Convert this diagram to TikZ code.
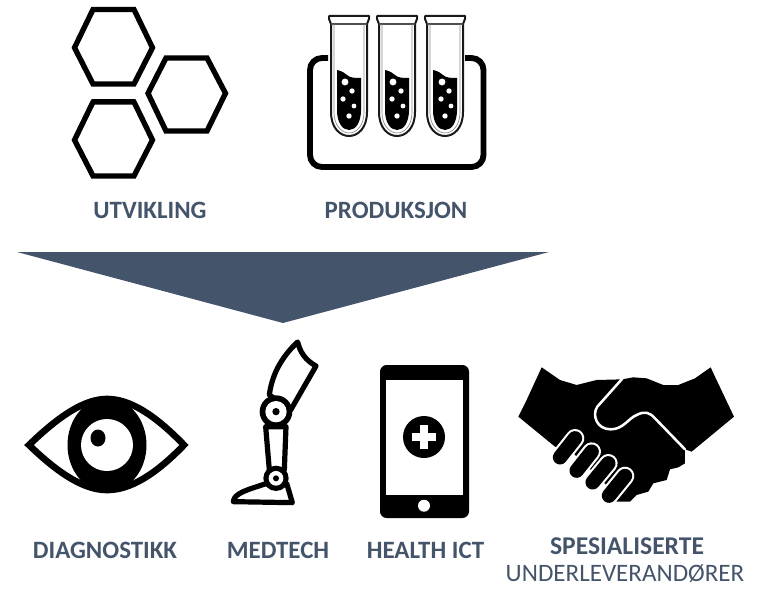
\documentclass[tikz,border=0pt]{standalone}
\usepackage{fontspec}
\setmainfont{Carlito}
\definecolor{slate}{HTML}{44546A}
\tikzset{
  lab/.style={text=slate,font=\fontsize{18.7}{20}\selectfont\bfseries,inner sep=0pt,anchor=center},
  labwide/.style={text=slate,font=\fontsize{19.2}{20}\selectfont\bfseries,inner sep=0pt,anchor=center},
  labthin/.style={text=slate,font=\fontsize{18.8}{20}\selectfont,inner sep=0pt,anchor=center},
  hex/.style={draw=black,line width=4pt,line join=miter,fill=none},
  leg/.style={draw=black,line width=3.9pt,line join=round,fill=white},
  testtube/.pic={
    \draw[line width=1.5pt,draw=black!90,fill=white,line join=round]
      (-2,0) -- (38,0) -- (38,3) -- (36,8) -- (36,96)
      .. controls (36,112) and (27,120) .. (18,120)
      .. controls (9,120) and (0,112) .. (0,96) -- (0,8) -- (-2,3) -- cycle;
    \draw[line width=1pt,draw=black!70] (0,8) -- (36,8);
    \draw[line width=.5pt,draw=black!45] (3,8) -- (3,96) .. controls (3,109) and (10,117) .. (18,117)
      .. controls (26,117) and (33,109) .. (33,96) -- (33,8);
    \fill[black] (6,54) .. controls (12,55) and (14,58) .. (16,59)
      .. controls (19,62) and (24,62) .. (30,62) -- (30,94)
      .. controls (30,106) and (25,114) .. (18,114)
      .. controls (11,114) and (6,106) .. (6,94) -- cycle;
  }
}
\begin{document}
\begin{tikzpicture}[x=.75pt,y=-.75pt]
\useasboundingbox (0,0) rectangle (759,588);
% hexagons
\draw[hex] (93,9.5) -- (134,9.5) -- (152.5,47.7) -- (134,84) -- (93,84) -- (74.5,47.7) -- cycle;
\draw[hex] (166,58) -- (207,58) -- (225.5,93.3) -- (207,131) -- (166,131) -- (148,93.3) -- cycle;
\draw[black,line width=2pt] (165,132) -- (208,132);
\draw[hex] (93,102) -- (134,102) -- (152.5,140) -- (134,176) -- (93,176) -- (74.5,140) -- cycle;
\draw[black,line width=1.5pt] (92,100.5) -- (135,100.5);
% rack
\draw[black,line width=4.4pt,rounded corners=9pt] (328,58) -- (310,58) -- (310,167) -- (483.5,167) -- (483.5,58) -- (465,58);
% tubes
\pic at (331,16) {testtube};
\pic at (379,16) {testtube};
\pic at (427,16) {testtube};
\foreach \t/\a/\b/\c/\d/\e in {331/14/21/12/23/18,379/14/22/13/24/18,427/15/22/14/24/18}{
  \begin{scope}[shift={(\t,16)}]
    \fill[white] (\a,66) circle (2.6pt) (\b,75) circle (2pt) (\c,83) circle (2pt) (\d,90) circle (1.8pt) (\e,100) circle (2pt);
  \end{scope}
}
% funnel
\fill[slate] (17,252) -- (549,252) -- (283,323) -- cycle;
% eye
\draw[black,line width=5pt,line join=miter] (29,445) .. controls (60,415) and (85,399) .. (107,399)
   .. controls (130,399) and (155,415) .. (184,445)
   .. controls (155,475) and (130,490) .. (107,490)
   .. controls (85,490) and (60,475) .. (29,445) -- cycle;
\fill[black] (107,445) ellipse [x radius=39.5,y radius=47];
\fill[white] (107,445) circle [radius=26];
\fill[black] (98,438) ellipse [x radius=7.5,y radius=8.5];
% leg
\begin{scope}[shift={(220,330)},scale=.3333]
  \draw[leg] (233,36) .. controls (240,65) and (255,90) .. (288,108) -- (212,240) -- (148,195)
     .. controls (155,140) and (180,85) .. (233,36) -- cycle;
  \draw[leg] (137,290) -- (198,290) -- (193,420) -- (148,420) -- cycle;
  \draw[leg] (40,515) .. controls (42,490) and (80,480) .. (135,462) -- (200,460) -- (217,518) -- cycle;
  \fill[black] (168,245) circle [radius=49];
  \fill[white] (168,245) circle [radius=32];
  \fill[black] (168,245) circle [radius=11];
  \fill[black] (168,445) circle [radius=38];
  \fill[white] (168,445) circle [radius=22];
  \fill[black] (168,445) circle [radius=9];
\end{scope}
% tablet
\fill[black,rounded corners=5pt] (380,365) rectangle (469,518);
\fill[white] (385.7,380) rectangle (463,495);
\fill[white] (424,505.7) circle [radius=6];
\fill[black] (424,437) circle [radius=21];
\fill[white] (420.3,425) rectangle (427.7,449);
\fill[white] (412,433.3) rectangle (436,440.7);
% handshake
\begin{scope}[shift={(370,350)},scale=.3333]
  \fill[black,line join=round] (515,52) -- (570,90) -- (620,105) -- (680,90) -- (757,88) -- (790,82) -- (830,85)
    -- (880,105) -- (925,105) -- (975,85) -- (1022,52) -- (1035,80) -- (1092,200) -- (965,305) -- (945,298)
    -- (945,340) -- (925,352) -- (900,358) -- (890,390) -- (850,400) -- (835,425) -- (800,435) -- (780,455)
    -- (740,455) -- (725,420) -- (600,300) -- (555,290) -- (445,200) -- (470,150) -- cycle;
  \draw[white,line width=1.9pt,line join=round,line cap=round] (757,86) -- (682,170)
    .. controls (665,195) and (680,238) .. (722,238)
    .. controls (760,238) and (775,205) .. (800,195)
    .. controls (825,182) and (840,188) .. (855,205) -- (945,298);
  \foreach \xa/\ya/\xb/\yb in {570/322/615/265,620/362/665/305,668/397/715/340,717/437/765/378}{
    \draw[white,line width=14pt,line cap=round] (\xa,\ya) -- (\xb,\yb);
    \draw[black,line width=10.8pt,line cap=round] (\xa,\ya) -- (\xb,\yb);
  }
\end{scope}
% labels
\node[lab] (utv) at (150,210) {UTVIKLING};
\node[lab] (prod) at (396,210) {PRODUKSJON};
\node[lab] (diag) at (105,550) {DIAGNOSTIKK};
\node[lab] (med) at (278,550) {MEDTECH};
\node[lab] (ict) at (425.5,550) {HEALTH ICT};
\node[labwide] (spes) at (627,546.5) {SPESIALISERTE};
\node[labthin] (under) at (625,574) {UNDERLEVERANDØRER};
\end{tikzpicture}
\end{document}
